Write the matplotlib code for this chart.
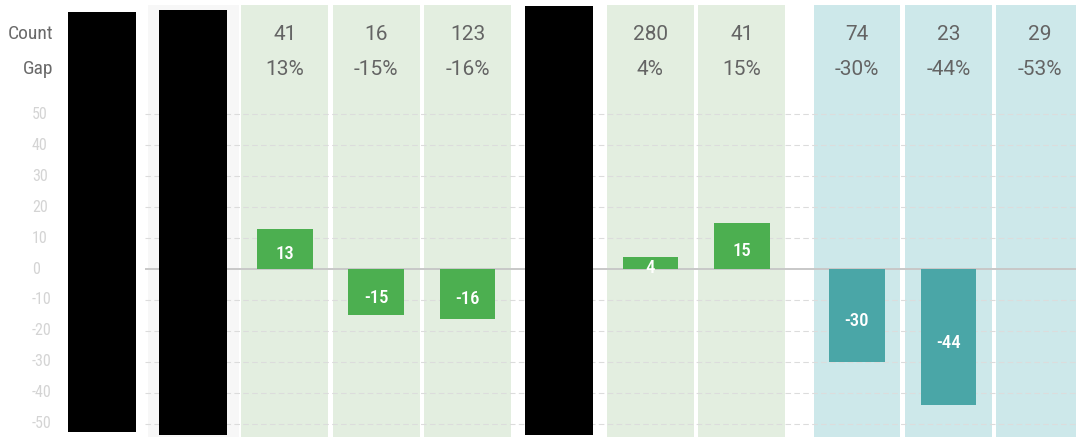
import numpy as np
import matplotlib
matplotlib.use('Agg')
import matplotlib.pyplot as plt
from matplotlib.patches import Rectangle
from matplotlib.transforms import offset_copy

###############################################################################

# Per-column data (None where the column is blanked out)
counts = [None, None, 41, 16, 123, None, 280, 41, 74, 23, 29]
gaps = [None, None, 13, -15, -16, None, 4, 15, -30, -44, -53]

# Background group of each column
groups = ['blank', 'gray', 'green', 'green', 'green', 'blank',
          'green', 'green', 'teal', 'teal', 'teal']

# Columns covered by a solid box
hidden_cols = [0, 1, 5]

row_names = ['Count', 'Gap']
y_ticks = [50, 40, 30, 20, 10, 0, -10, -20, -30, -40, -50]

###############################################################################

bg_colors = {'blank': 'white', 'gray': '#f7f7f7',
             'green': '#e3eee0', 'teal': '#cde8ea'}
bar_colors = {'green': '#4caf50', 'teal': '#4aa6a7'}

narrow = ['Roboto Condensed', 'DejaVu Sans']
plain = ['Roboto', 'DejaVu Sans']

idx = np.arange(len(counts))
xpos = idx + np.where(idx >= 8, 0.26, 0.0)

fig = plt.figure(figsize=(10.76, 4.41), dpi=100)
ax = fig.add_axes([0, 0, 1, 1])
ax.set_xlim(-1.116, 10.656)
ax.set_ylim(-55.5, 86.8)
ax.axis('off')

y_top, y_bot = 85.2, -54.2

# Column backgrounds
for x, grp in zip(xpos, groups):
    w = 1.0 if grp == 'gray' else 0.95
    ax.add_patch(Rectangle((x - w / 2, y_bot), w, y_top - y_bot,
                           facecolor=bg_colors[grp], edgecolor='none',
                           zorder=0))

# Gridlines and zero line
x_grid0 = 0.47
for t in y_ticks:
    if t == 0:
        ax.hlines(t, x_grid0, 10.656, color='#c8c8c8', lw=1.4, zorder=1)
    else:
        ax.hlines(t, x_grid0, 10.656, color='#dcdcdc', lw=0.8,
                  linestyles=(0, (5, 3)), zorder=1)
    ax.text(-0.766, t, str(t), ha='left', va='center', fontsize=11.5,
            color='#d4d4d4', family=narrow, stretch='condensed')

# Row headers
row_y = [75.8, 64.5]
for name, y in zip(row_names, row_y):
    ax.text(-0.533, y, name, ha='right', va='center', fontsize=14,
            color='#6a6a6a', family=narrow, stretch='condensed')

# Column values
for x, c, g in zip(xpos, counts, gaps):
    if c is None:
        continue
    ax.text(x, row_y[0], str(c), ha='center', va='center', fontsize=15,
            color='#646464', family=plain)
    ax.text(x, row_y[1], '%d%%' % g, ha='center', va='center', fontsize=15,
            color='#646464', family=plain)

# Gap bars, only those inside the axis range
label_tr = offset_copy(ax.transData, fig=fig, x=0, y=-4, units='points')
for x, g, grp in zip(xpos, gaps, groups):
    if g is None or abs(g) > 50:
        continue
    bars = ax.bar(x, g, width=0.61, color=bar_colors[grp], zorder=3)
    patch = bars.patches[0]
    txt = ax.text(x, g / 2, str(g), ha='center', va='center', fontsize=13.5,
                  color='white', family=narrow, stretch='condensed',
                  fontweight='medium', transform=label_tr, zorder=4)
    txt.set_clip_path(patch)

# Solid boxes over the hidden columns
box_spans = {0: (-52.6, 82.9), 1: (-53.5, 83.5), 5: (-53.5, 84.8)}
for i in hidden_cols:
    lo, hi = box_spans[i]
    ax.add_patch(Rectangle((xpos[i] - 0.372, lo), 0.744, hi - lo,
                           facecolor='black', edgecolor='none', zorder=5))

fig.savefig('out.png', dpi=100)
